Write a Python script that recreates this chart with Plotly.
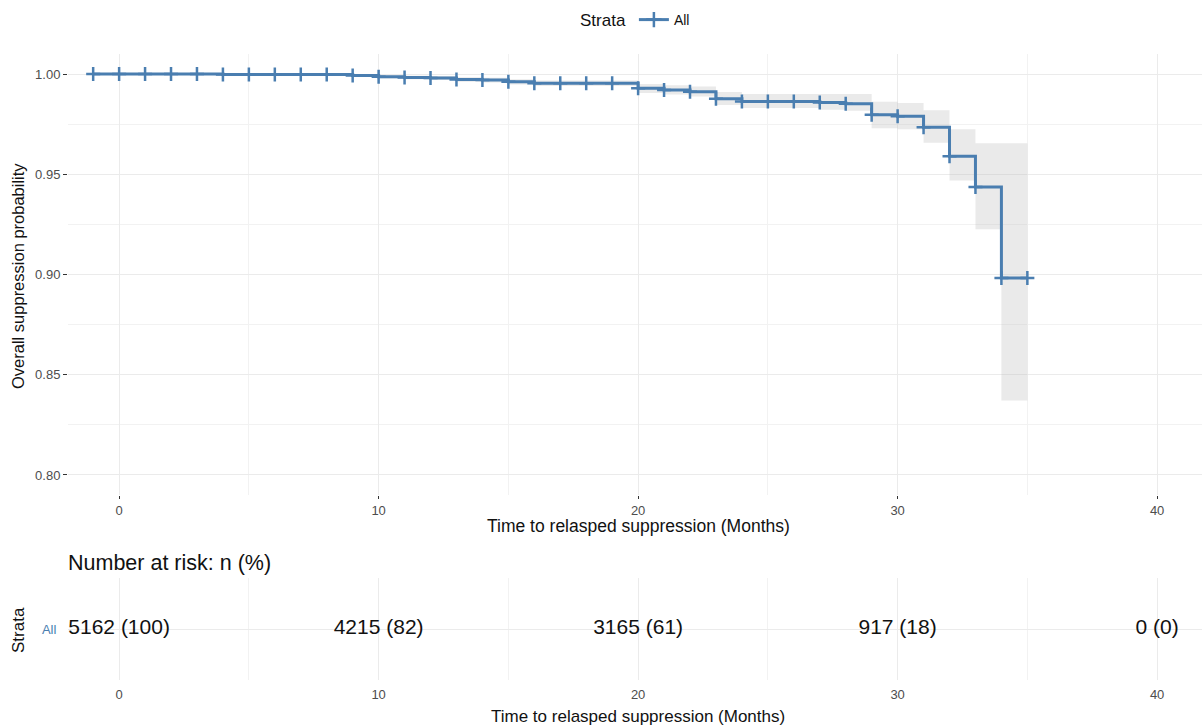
import plotly.graph_objects as go

# ---------------- data ----------------
months = list(range(-1, 36))
surv = [1.0, 1.0, 1.0, 1.0, 1.0,
        0.9998, 0.9998, 0.9998, 0.9998, 0.9998,
        0.9993, 0.9986, 0.9983, 0.9980, 0.9973,
        0.9970, 0.9961, 0.9954, 0.9954, 0.9954, 0.9954,
        0.9929, 0.9920, 0.9912, 0.9877, 0.9863,
        0.9863, 0.9863, 0.9858, 0.9852,
        0.9797, 0.9789, 0.9734, 0.9590, 0.9436, 0.8982, 0.8982]
lower = [1.0, 1.0, 1.0, 1.0, 1.0,
         0.9994, 0.9994, 0.9994, 0.9994, 0.9994,
         0.9986, 0.9978, 0.9974, 0.9970, 0.9962,
         0.9958, 0.9948, 0.9940, 0.9940, 0.9940, 0.9940,
         0.9906, 0.9898, 0.9888, 0.9846, 0.9830,
         0.9830, 0.9830, 0.9822, 0.9817,
         0.9730, 0.9725, 0.9657, 0.9469, 0.9226, 0.8372, 0.8372]
upper = [1.0, 1.0, 1.0, 1.0, 1.0,
         1.0, 1.0, 1.0, 1.0, 1.0,
         1.0, 0.9994, 0.9992, 0.9990, 0.9984,
         0.9982, 0.9974, 0.9968, 0.9968, 0.9968, 0.9968,
         0.9950, 0.9944, 0.9938, 0.9910, 0.9900,
         0.9900, 0.9900, 0.9900, 0.9900,
         0.9862, 0.9855, 0.9820, 0.9725, 0.9655, 0.9655, 0.9655]

risk_times = [0, 10, 20, 30, 40]
risk_text = ["5162 (100)", "4215 (82)", "3165 (61)", "917 (18)", "0 (0)"]
strata = ["All"]

x_ticks = [0, 10, 20, 30, 40]
y_ticks = [0.80, 0.85, 0.90, 0.95, 1.00]

# ---------------- style ----------------
LINE = "#4A7EB0"
GRID = "#EBEBEB"
MINOR = "#F2F2F2"
TICKC = "#4D4D4D"
FONT = "Liberation Sans, Arial, sans-serif"
W, H = 1202, 728


def px(x):
    return x / W


def py(y):
    return 1 - y / H


XR = [-1.97, 41.73]
LEFT = 68

fig = go.Figure()

# CI band
fig.add_trace(go.Scatter(x=months, y=lower, mode="lines", line=dict(width=0, shape="hv"),
                         showlegend=False, hoverinfo="skip", xaxis="x", yaxis="y"))
fig.add_trace(go.Scatter(x=months, y=upper, mode="lines", line=dict(width=0, shape="hv"),
                         fill="tonexty", fillcolor="rgba(190,190,190,0.33)",
                         showlegend=False, hoverinfo="skip", xaxis="x", yaxis="y"))
# survival curve
fig.add_trace(go.Scatter(x=months, y=surv, mode="lines", line=dict(color=LINE, width=3, shape="hv"),
                         showlegend=False, xaxis="x", yaxis="y"))
# censor marks
fig.add_trace(go.Scatter(x=months, y=surv, mode="markers", name="All",
                         marker=dict(symbol="cross-thin", size=10, color=LINE,
                                     line=dict(color=LINE, width=2.5)),
                         showlegend=False, xaxis="x", yaxis="y"))
# legend entry
fig.add_trace(go.Scatter(x=[None], y=[None], mode="lines+markers", name="All",
                         line=dict(color=LINE, width=3),
                         marker=dict(symbol="cross-thin", size=11, color=LINE,
                                     line=dict(color=LINE, width=2.5)),
                         showlegend=True, xaxis="x", yaxis="y"))

# risk table
fig.add_trace(go.Scatter(x=risk_times, y=strata * len(risk_times), mode="text", text=risk_text,
                         textfont=dict(family=FONT, size=21, color="#111111"),
                         textposition="middle center", showlegend=False,
                         xaxis="x2", yaxis="y2"))

axis_common = dict(showline=False, zeroline=False, gridcolor=GRID, gridwidth=1,
                   tickfont=dict(family=FONT, size=13, color=TICKC), automargin=False)

fig.update_layout(
    width=W, height=H,
    margin=dict(l=0, r=0, t=0, b=0),
    paper_bgcolor="white", plot_bgcolor="white",
    font=dict(family=FONT),
    xaxis=dict(domain=[px(LEFT), 1.0], range=XR, tickvals=x_ticks, ticks="outside",
               ticklen=3, tickcolor="#333333", tickwidth=1, anchor="y",
               minor=dict(dtick=5, tick0=0, showgrid=True, gridcolor=MINOR, ticklen=0),
               **axis_common),
    yaxis=dict(domain=[py(495), py(54)], range=[0.79, 1.01], tickvals=y_ticks,
               tickformat=".2f", ticks="outside", ticklen=4, tickcolor="#333333",
               tickwidth=1, anchor="x",
               minor=dict(dtick=0.025, tick0=0.8, showgrid=True, gridcolor=MINOR, ticklen=0),
               **axis_common),
    xaxis2=dict(domain=[px(LEFT), 1.0], range=XR, tickvals=x_ticks, ticks="outside",
                ticklen=2, tickcolor="rgba(0,0,0,0)", anchor="y2",
                minor=dict(dtick=5, tick0=0, showgrid=True, gridcolor=MINOR, ticklen=0),
                **axis_common),
    yaxis2=dict(domain=[py(680), py(578)], type="category", range=[-0.5, 0.5],
                ticks="outside", ticklen=8, tickcolor="rgba(0,0,0,0)", anchor="x2",
                showline=False, zeroline=False, gridcolor=GRID, automargin=False,
                tickfont=dict(family=FONT, size=13, color=LINE)),
    legend=dict(orientation="h", x=px(578), xanchor="left", y=py(4), yanchor="top",
                title=dict(text="Strata", font=dict(family=FONT, size=17, color="#111111")),
                font=dict(family=FONT, size=14, color="#111111"),
                bgcolor="rgba(0,0,0,0)", itemwidth=30),
    annotations=[
        dict(text="Overall suppression probability", x=px(18), y=py(276), xref="paper", yref="paper",
             showarrow=False, textangle=-90, font=dict(family=FONT, size=16.5, color="#111111"),
             xanchor="center", yanchor="middle"),
        dict(text="Time to relasped suppression (Months)", x=px(638), y=py(526), xref="paper",
             yref="paper", showarrow=False, font=dict(family=FONT, size=17.5, color="#111111"),
             xanchor="center", yanchor="middle"),
        dict(text="Number at risk: n (%)", x=px(66), y=py(563), xref="paper", yref="paper",
             showarrow=False, font=dict(family=FONT, size=21.5, color="#111111"),
             xanchor="left", yanchor="middle"),
        dict(text="Strata", x=px(18), y=py(630), xref="paper", yref="paper",
             showarrow=False, textangle=-90, font=dict(family=FONT, size=17, color="#111111"),
             xanchor="center", yanchor="middle"),
        dict(text="Time to relasped suppression (Months)", x=px(638), y=py(716), xref="paper",
             yref="paper", showarrow=False, font=dict(family=FONT, size=17, color="#111111"),
             xanchor="center", yanchor="middle"),
    ],
)

fig.write_html("out.html")
